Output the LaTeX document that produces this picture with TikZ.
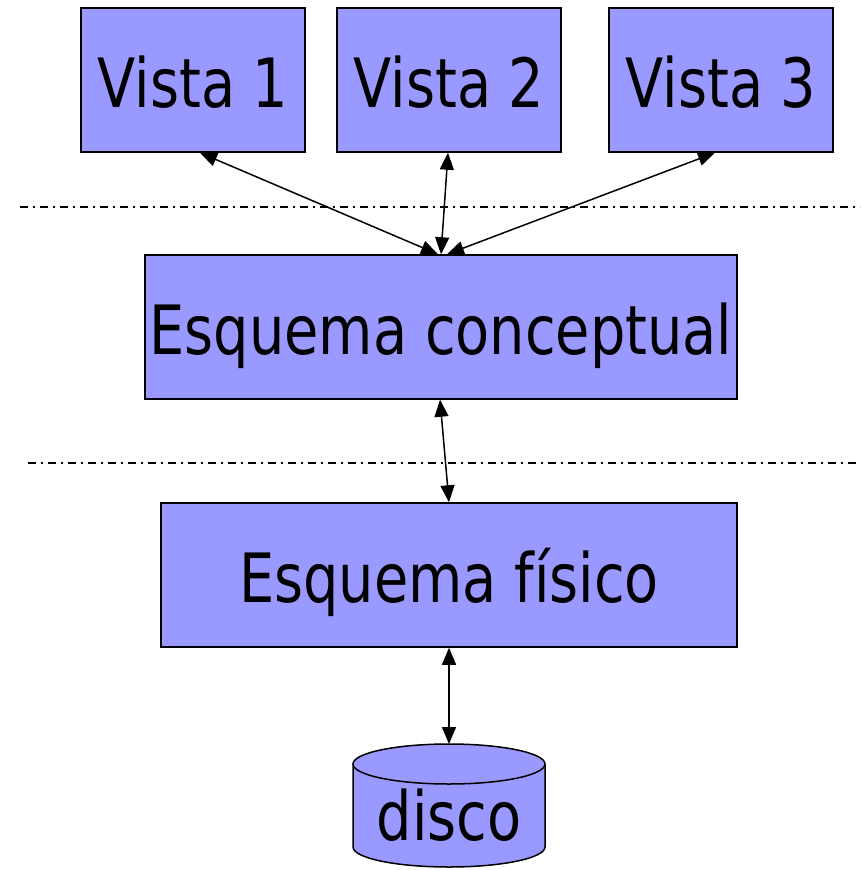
\documentclass[tikz,border=0pt]{standalone}
\usepackage{fontspec}
\setmainfont{DejaVu Sans}
\usetikzlibrary{arrows.meta}
\definecolor{boxfill}{HTML}{9999FF}
\newcommand{\nt}[1]{\scalebox{0.82}[1]{#1}}
\tikzset{
  box/.style={draw=black, line width=1.5pt, fill=boxfill, inner sep=0pt,
    font=\fontsize{68}{80}\selectfont, text height=54pt, text depth=0pt},
  arr/.style={{Triangle[length=17pt,width=14pt]}-{Triangle[length=17pt,width=14pt]}, line width=1.5pt},
  sep/.style={line width=1.5pt, dash pattern=on 8pt off 5pt on 2pt off 5pt}
}
\begin{document}
\begin{tikzpicture}[x=1pt,y=-1pt]
\useasboundingbox (0,0) rectangle (860,870);
\node[box, minimum width=224pt, minimum height=144pt] (v1) at (193,80) {\nt{Vista 1}};
\node[box, minimum width=224pt, minimum height=144pt] (v2) at (449,80) {\nt{Vista 2}};
\node[box, minimum width=224pt, minimum height=144pt] (v3) at (721,80) {\nt{Vista 3}};
\node[box, minimum width=592pt, minimum height=144pt] (ec) at (441,327) {\nt{Esquema conceptual}};
\node[box, minimum width=576pt, minimum height=144pt] (ef) at (449,575) {\nt{Esquema físico}};
% disco cylinder
\fill[boxfill] (353,764) rectangle (545,847);
\fill[boxfill] (449,847) ellipse[x radius=96,y radius=20];
\draw[line width=1.5pt] (353,764) -- (353,847) arc[start angle=180,end angle=0,x radius=96,y radius=20] -- (545,764);
\draw[line width=1.5pt, fill=boxfill] (449,764) ellipse[x radius=96,y radius=20];
\node[inner sep=0pt, minimum width=192pt, minimum height=20pt, anchor=north] (dk) at (449,744) {};
\node[font=\fontsize{68}{80}\selectfont, inner sep=0pt, anchor=base] (dt) at (449,840) {\nt{disco}};
% separators
\coordinate (s1a) at (20,207); \coordinate (s1b) at (860,207);
\coordinate (s2a) at (28,463); \coordinate (s2b) at (860,463);
\draw[sep] (s1a) -- (s1b);
\draw[sep] (s2a) -- (s2b);
% arrows
\draw[arr] ([xshift=7pt]v1.south) -- ([xshift=-3pt]ec.north);
\draw[arr] ([xshift=-1pt]v2.south) -- ([xshift=0pt]ec.north);
\draw[arr] ([xshift=-6pt]v3.south) -- ([xshift=6pt]ec.north);
\draw[arr] ([xshift=-1pt]ec.south) -- (ef.north);
\draw[arr] (ef.south) -- (dk.north);
\end{tikzpicture}
\end{document}
